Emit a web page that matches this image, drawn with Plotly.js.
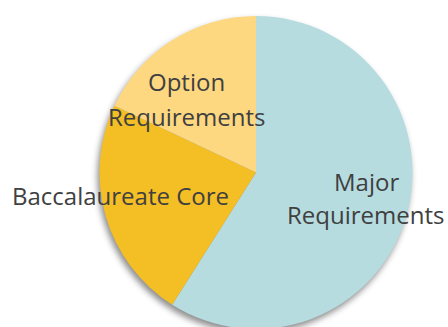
<!DOCTYPE html>
<html>
<head>
<meta charset="utf-8">
<script src="https://cdn.plot.ly/plotly-3.0.1.min.js"></script>
<style>
html,body{margin:0;padding:0;overflow:hidden;background:#fff;width:448px;height:327px;}
#chart{width:448px;height:329px;}
</style>
</head>
<body>
<div id="chart"></div>
<script>
// Data
const categories = ['Major Requirements', 'Baccalaureate Core', 'Option Requirements'];
const shares = [59, 23, 18];
const sliceColors = ['#B6DCE0', '#F4BE25', '#FDD880'];
const breakLabel = [true, false, true];

// Label layout (pixel positions of each text line's middle)
const labelPos = [
  [[366, 181], [365, 214]],
  [[120, 195]],
  [[186, 82], [186, 117]]
];

const W = 448, TOP = 16, PH = 313;
const annotations = [];
categories.forEach((c, i) => {
  let lines;
  if (breakLabel[i]) {
    const k = c.indexOf(' ');
    lines = [c.slice(0, k), c.slice(k + 1)];
  } else {
    lines = [c];
  }
  lines.forEach((ln, j) => {
    const [px, py] = labelPos[i][j];
    annotations.push({
      text: ln, xref: 'paper', yref: 'paper',
      x: px / W, y: 1 - (py - TOP) / PH,
      xanchor: 'center', yanchor: 'middle', showarrow: false,
      font: {family: 'Open Sans', size: 24, color: '#404040'}
    });
  });
});

const cx = 256, r = 156.5;
const data = [{
  type: 'pie',
  labels: categories,
  values: shares,
  sort: false,
  direction: 'clockwise',
  rotation: 0,
  textinfo: 'none',
  hoverinfo: 'none',
  marker: {colors: sliceColors, line: {width: 0}},
  domain: {x: [(cx - r) / W, (cx + r) / W], y: [0, 1]},
  showlegend: false
}];

const layout = {
  width: 448, height: 329,
  margin: {l: 0, r: 0, t: TOP, b: 0, pad: 0},
  paper_bgcolor: '#ffffff',
  plot_bgcolor: '#ffffff',
  showlegend: false,
  annotations: annotations
};

Plotly.newPlot('chart', data, layout, {displayModeBar: false, staticPlot: true}).then(() => {
  document.querySelectorAll('.pielayer').forEach(el => {
    el.style.filter = 'drop-shadow(-2px 4px 3px rgba(0,0,0,0.45))';
  });
});
</script>
</body>
</html>
